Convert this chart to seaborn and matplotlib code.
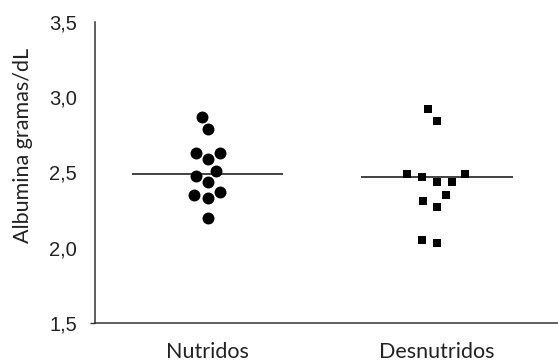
import matplotlib
matplotlib.use("Agg")
import matplotlib.pyplot as plt
from matplotlib.collections import PathCollection
import seaborn as sns
import pandas as pd

categories = ["Nutridos", "Desnutridos"]
nutridos = [2.87, 2.79, 2.63, 2.63, 2.59, 2.51, 2.48, 2.44, 2.35, 2.37, 2.33, 2.20]
desnutridos = [2.92, 2.84, 2.49, 2.49, 2.47, 2.44, 2.44, 2.35, 2.31, 2.27, 2.03, 2.05]
medians = [2.49, 2.47]
y_ticks = [1.5, 2.0, 2.5, 3.0, 3.5]
y_tick_labels = ["1,5", "2,0", "2,5", "3,0", "3,5"]

sns.set_theme(style="white")
plt.rcParams["font.family"] = ["Lato", "DejaVu Sans"]

df = pd.DataFrame({
    "grupo": [categories[0]] * len(nutridos) + [categories[1]] * len(desnutridos),
    "valor": nutridos + desnutridos,
})

fig = plt.figure(figsize=(5.58, 3.62), dpi=100)
ax = fig.add_axes([0.170, 0.108, 0.830, 0.831])

# swarm layout computed with a spacing size, then markers shrunk to the drawn size
sns.swarmplot(data=df[df.grupo == categories[0]], x="grupo", y="valor", order=categories,
              color="black", size=9.5, marker="o", linewidth=0, ax=ax)
n_before = len(ax.collections)
sns.swarmplot(data=df[df.grupo == categories[1]], x="grupo", y="valor", order=categories,
              color="black", size=10.5, marker="s", linewidth=0, ax=ax)
n_after = len(ax.collections)

for i, m in enumerate(medians):
    ax.hlines(m, i - 0.33, i + 0.33, color="#333333", lw=1.3, zorder=1)

ax.set_xlim(-0.493, 0.528 + 1)
ax.set_ylim(1.5, 3.5)
ax.set_yticks(y_ticks)
ax.set_yticklabels(y_tick_labels, fontfamily="Liberation Sans", fontsize=14.5, color="#222222")
ax.tick_params(axis="y", length=3.6, width=1, pad=9.4, color="#333333", left=True)
for t in ax.yaxis.get_major_ticks()[1:]:
    t.tick1line.set_visible(False)
ax.tick_params(axis="x", length=0, pad=14, labelsize=15.5, labelcolor="#222222")
ax.set_xlabel("")
ax.set_ylabel("Albumina gramas/dL", fontsize=15.5, color="#222222")
ax.yaxis.set_label_coords(-0.133, 0.59)

for s in ["top", "right"]:
    ax.spines[s].set_visible(False)
for s in ["left", "bottom"]:
    ax.spines[s].set_color("#333333")
    ax.spines[s].set_linewidth(1.1)

fig.canvas.draw()
groups = [ax.collections[:n_before], ax.collections[n_before:n_after]]
final_sizes = [8.6 ** 2, 6.0 ** 2]
for colls, sz in zip(groups, final_sizes):
    for coll in colls:
        if not isinstance(coll, PathCollection) or len(coll.get_offsets()) == 0:
            continue
        if "draw" in coll.__dict__:
            del coll.__dict__["draw"]
        coll.set_sizes([sz])

fig.savefig("out.png", dpi=100)
